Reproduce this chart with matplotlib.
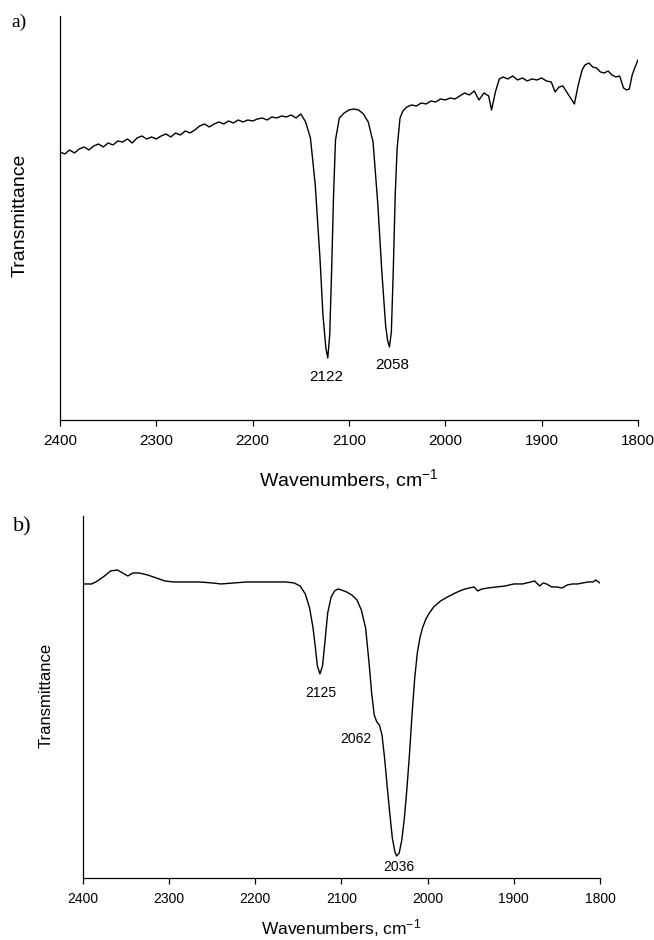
"""Two IR transmittance spectra (a, b) in the 2400-1800 cm-1 window."""

import matplotlib.pyplot as plt

plt.rcParams["font.family"] = ["Liberation Sans", "DejaVu Sans"]
plt.rcParams["mathtext.fontset"] = "custom"
plt.rcParams["mathtext.rm"] = "Liberation Sans"
plt.rcParams["mathtext.it"] = "Liberation Sans"

# spectrum a), values (arbitrary transmittance units)
wn_a = [
    2400, 2395, 2390, 2385, 2380, 2375, 2370, 2365, 2360, 2355, 2350, 2345,
    2340, 2335, 2330, 2325, 2320, 2315, 2310, 2305, 2300, 2295, 2290, 2285,
    2280, 2275, 2270, 2265, 2260, 2255, 2250, 2245, 2240, 2235, 2230, 2225,
    2220, 2215, 2210, 2205, 2200, 2195, 2190, 2185, 2180, 2175, 2170, 2165,
    2160, 2155, 2150, 2145, 2140, 2135, 2130, 2127, 2124, 2122, 2120, 2118,
    2116, 2114, 2110, 2105, 2100, 2095, 2090, 2085, 2080, 2075, 2070, 2066,
    2062, 2060, 2058, 2056, 2054, 2052, 2050, 2047, 2044, 2040, 2035, 2030,
    2025, 2020, 2015, 2010, 2005, 2000, 1995, 1990, 1985, 1980, 1975, 1970,
    1965, 1960, 1955, 1952, 1948, 1944, 1940, 1935, 1930, 1925, 1920, 1915,
    1910, 1905, 1900, 1895, 1890, 1886, 1882, 1878, 1874, 1870, 1866, 1862,
    1858, 1855, 1851, 1847, 1843, 1839, 1835, 1831, 1827, 1823, 1819, 1815,
    1812, 1809, 1806, 1803, 1800,
]
tr_a = [
    268, 266, 270, 267, 271, 273, 270, 274, 276, 273, 277, 275,
    279, 278, 281, 277, 282, 284, 281, 283, 281, 284, 286, 283,
    287, 285, 289, 287, 290, 294, 296, 293, 296, 298, 296, 299,
    297, 300, 298, 300, 299, 301, 302, 300, 303, 302, 304, 303,
    305, 302, 306, 298, 282, 235, 160, 105, 72, 62, 85, 150,
    225, 280, 302, 307, 310, 311, 310, 306, 298, 278, 215, 150,
    95, 80, 73, 88, 150, 225, 272, 302, 309, 313, 315, 314,
    317, 316, 319, 318, 321, 320, 322, 321, 324, 327, 325, 329,
    320, 327, 324, 310, 328, 341, 343, 341, 344, 340, 342, 339,
    341, 340, 342, 339, 338, 328, 333, 334, 328, 322, 316, 335,
    350, 355, 357, 353, 352, 348, 347, 349, 345, 343, 344, 332,
    330, 331, 345, 353, 360,
]

# spectrum b)
wn_b = [
    2400, 2390, 2385, 2375, 2368, 2360, 2354, 2348, 2342, 2335, 2325, 2315,
    2305, 2295, 2280, 2265, 2250, 2240, 2225, 2210, 2195, 2180, 2165, 2155,
    2148, 2142, 2137, 2133, 2130, 2128, 2125, 2122, 2119, 2116, 2112, 2108,
    2104, 2100, 2094, 2088, 2082, 2077, 2072, 2068, 2065, 2062, 2059, 2056,
    2053, 2050, 2047, 2044, 2041, 2038, 2036, 2033, 2030, 2027, 2024, 2021,
    2018, 2015, 2012, 2009, 2006, 2002, 1998, 1993, 1985, 1977, 1968, 1960,
    1952, 1946, 1942, 1937, 1930, 1920, 1910, 1900, 1890, 1880, 1876, 1870,
    1866, 1862, 1856, 1850, 1844, 1838, 1832, 1826, 1820, 1814, 1808, 1805,
    1800,
]
tr_b = [
    294, 294, 296, 302, 307, 308, 305, 302, 305, 305, 303, 300,
    297, 296, 296, 296, 295, 294, 295, 296, 296, 296, 296, 295,
    292, 284, 270, 250, 228, 212, 204, 212, 238, 265, 281, 287,
    289, 288, 286, 283, 278, 268, 250, 215, 185, 163, 156, 153,
    143, 120, 92, 65, 40, 26, 22, 25, 38, 60, 90, 125,
    165, 200, 225, 240, 250, 259, 265, 271, 277, 281, 285, 288,
    290, 291, 287, 289, 290, 291, 292, 294, 294, 296, 297, 292,
    295, 294, 291, 291, 290, 293, 294, 294, 295, 296, 296, 298,
    295,
]

x_ticks = [2400, 2300, 2200, 2100, 2000, 1900, 1800]


def style_axes(ax, tick_size):
    ax.spines["top"].set_visible(False)
    ax.spines["right"].set_visible(False)
    for side in ("left", "bottom"):
        ax.spines[side].set_linewidth(0.9)
    ax.set_xlim(2400, 1800)
    ax.set_xticks(x_ticks)
    ax.set_yticks([])
    ax.tick_params(axis="x", direction="out", length=4, width=0.9,
                   labelsize=tick_size, pad=6)


fig = plt.figure(figsize=(6.54, 9.40), dpi=100)

ax_a = fig.add_axes([0.0917, 0.5532, 0.8838, 0.4298])
ax_a.plot(wn_a, tr_a, color="black", lw=1.0)
style_axes(ax_a, 11)
ax_a.set_ylim(0, 404)
ax_a.set_xlabel(r"Wavenumbers, cm$^{-1}$", fontsize=14, labelpad=14)
ax_a.text(2124, 43, "2122", ha="center", va="center", fontsize=11)
ax_a.text(2055, 55, "2058", ha="center", va="center", fontsize=11)

ax_b = fig.add_axes([0.1269, 0.0660, 0.7905, 0.3851])
ax_b.plot(wn_b, tr_b, color="black", lw=1.0)
style_axes(ax_b, 10)
ax_b.set_ylim(0, 362)
ax_b.set_xlabel(r"Wavenumbers, cm$^{-1}$", fontsize=12.5, labelpad=8)
ax_b.text(2124, 185, "2125", ha="center", va="center", fontsize=10)
ax_b.text(2083, 139, "2062", ha="center", va="center", fontsize=10)
ax_b.text(2034, 11, "2036", ha="center", va="center", fontsize=10)

fig.text(0.031, 1 - 215 / 940, "Transmittance", rotation=90,
         ha="center", va="center", fontsize=14)
fig.text(0.071, 1 - 695 / 940, "Transmittance", rotation=90,
         ha="center", va="center", fontsize=12)

fig.text(0.029, 1 - 22 / 940, "a)", ha="center", va="center",
         fontsize=14, family="Liberation Serif")
fig.text(0.034, 1 - 527 / 940, "b)", ha="center", va="center",
         fontsize=16, family="Liberation Serif")

fig.savefig("out.png", dpi=100)
